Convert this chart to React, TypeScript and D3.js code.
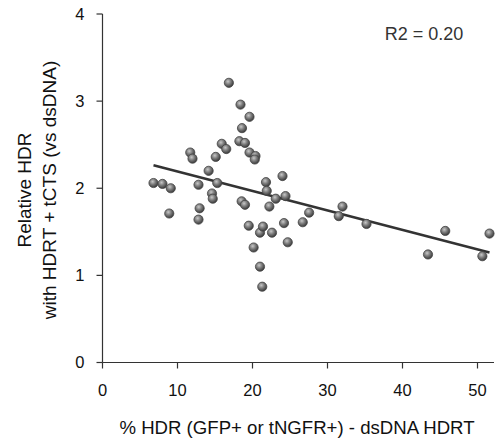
import React from "react";
import * as d3 from "d3";

const xValues = [6.8, 8.0, 9.1, 8.9, 11.7, 12.0, 12.8, 12.95, 12.8, 14.15, 14.6, 14.7, 15.1, 15.3, 15.9, 16.5, 16.85, 18.4, 19.6, 18.6, 18.25, 19.0, 19.6, 20.4, 20.3, 18.55, 19.0, 19.5, 20.15, 21.0, 21.3, 21.0, 21.4, 21.8, 21.9, 22.25, 22.6, 23.1, 24.0, 24.4, 24.2, 24.7, 26.7, 27.55, 31.5, 32.0, 35.2, 43.4, 45.7, 50.65, 51.6];
const yValues = [2.06, 2.05, 2.0, 1.71, 2.41, 2.34, 2.04, 1.77, 1.64, 2.2, 1.94, 1.88, 2.36, 2.06, 2.51, 2.45, 3.21, 2.96, 2.82, 2.69, 2.54, 2.52, 2.41, 2.37, 2.33, 1.85, 1.81, 1.57, 1.32, 1.1, 0.87, 1.49, 1.56, 2.07, 1.97, 1.79, 1.49, 1.88, 2.14, 1.91, 1.6, 1.38, 1.61, 1.72, 1.68, 1.79, 1.59, 1.24, 1.51, 1.22, 1.48];
const xTicks = [0, 10, 20, 30, 40, 50];
const yTicks = [0, 1, 2, 3, 4];
const xTitle = "% HDR (GFP+ or tNGFR+) - dsDNA HDRT";
const yTitleLines = ["Relative HDR", "with HDRT + tCTS (vs dsDNA)"];
const r2Label = "R2 = 0.20";

export default function App() {
  const W = 495, H = 443;
  const x = d3.scaleLinear().domain([0, 50]).range([102.5, 477.5]);
  const y = d3.scaleLinear().domain([0, 4]).range([362.5, 14]);
  const xMaxAxis = x.invert(494);

  const pts = xValues.map((v, i) => ({ x: v, y: yValues[i] }));
  const mx = d3.mean(pts, (p) => p.x)!;
  const my = d3.mean(pts, (p) => p.y)!;
  const sxy = d3.sum(pts, (p) => (p.x - mx) * (p.y - my));
  const sxx = d3.sum(pts, (p) => (p.x - mx) ** 2);
  const slope = sxy / sxx;
  const icpt = my - slope * mx;
  const [x0, x1] = d3.extent(xValues) as [number, number];
  const fitLine = d3.line<number>().x((v) => x(v)).y((v) => y(icpt + slope * v));

  const font = "Arial, 'Liberation Sans', sans-serif";
  return (
    <svg width={W} height={H} style={{ position: "absolute", left: 0, top: 0 }} fontFamily={font}>
      <defs>
        <radialGradient id="ball" cx="0.4" cy="0.35" r="0.65">
          <stop offset="0" stopColor="#c8c8c8" />
          <stop offset="0.5" stopColor="#7a7a7a" />
          <stop offset="1" stopColor="#3a3a3a" />
        </radialGradient>
      </defs>
      <rect width={W} height={H} fill="#fff" />
      <line x1={x(0)} x2={x(xMaxAxis)} y1={y(0)} y2={y(0)} stroke="#333" strokeWidth={1.2} />
      <line x1={x(0)} x2={x(0)} y1={y(0)} y2={y(4)} stroke="#333" strokeWidth={1.2} />
      {yTicks.map((t) => (
        <g key={"y" + t}>
          <line x1={x(0) - 6} x2={x(0)} y1={y(t)} y2={y(t)} stroke="#333" strokeWidth={1.2} />
          <text x={x(0) - 18} y={y(t)} dy="0.35em" textAnchor="end" fontSize={16.5} fill="#111">{t}</text>
        </g>
      ))}
      {xTicks.map((t) => (
        <g key={"x" + t}>
          <line x1={x(t)} x2={x(t)} y1={y(0)} y2={y(0) + 6} stroke="#333" strokeWidth={1.2} />
          <text x={x(t)} y={y(0) + 28} dy="0.35em" textAnchor="middle" fontSize={16.5} fill="#111">{t}</text>
        </g>
      ))}
      <text x={297} y={434} textAnchor="middle" fontSize={18.6} fill="#111">{xTitle}</text>
      {yTitleLines.map((s, i) => (
        <text key={s} transform={`translate(${31 + i * 25},190) rotate(-90)`} textAnchor="middle" fontSize={19} fill="#111">{s}</text>
      ))}
      <text x={424} y={40} textAnchor="middle" fontSize={18} fill="#333">{r2Label}</text>
      <path d={fitLine([x0, x1])!} stroke="#333" strokeWidth={2.5} fill="none" />
      {pts.map((p, i) => (
        <circle key={i} cx={x(p.x)} cy={y(p.y)} r={4.6} fill="url(#ball)" stroke="#444" strokeWidth={0.8} />
      ))}
    </svg>
  );
}
